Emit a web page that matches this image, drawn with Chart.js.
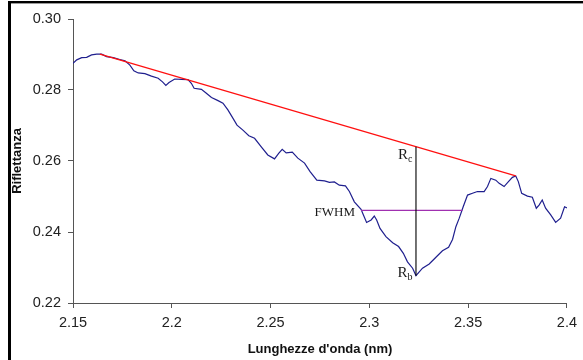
<!DOCTYPE html>
<html>
<head>
<meta charset="utf-8">
<script src="https://cdn.jsdelivr.net/npm/chart.js@4/dist/chart.umd.min.js"></script>
<style>
  html, body { margin: 0; padding: 0; background: #fff; }
  #wrap { width: 583px; height: 360px; }
</style>
</head>
<body>
<div id="wrap"><canvas id="c" width="583" height="360"></canvas></div>
<script>
// Spectrum: wavelength (µm) and reflectance
const wavelength = [
  2.1500, 2.1519, 2.1544, 2.1569, 2.1594, 2.1620, 2.1645, 2.1670, 2.1704, 2.1737,
  2.1763, 2.1788, 2.1808, 2.1830, 2.1864, 2.1897, 2.1931, 2.1953, 2.1970, 2.1986,
  2.2015, 2.2049, 2.2082, 2.2099, 2.2113, 2.2150, 2.2175, 2.2201, 2.2234, 2.2259,
  2.2284, 2.2310, 2.2330, 2.2360, 2.2390, 2.2419, 2.2453, 2.2486, 2.2520, 2.2542,
  2.2559, 2.2579, 2.2610, 2.2638, 2.2672, 2.2700, 2.2734, 2.2773, 2.2798, 2.2823,
  2.2848, 2.2879, 2.2899, 2.2924, 2.2958, 2.2970, 2.2986, 2.3009, 2.3025, 2.3037,
  2.3054, 2.3084, 2.3118, 2.3148, 2.3172, 2.3193, 2.3219, 2.3236, 2.3269, 2.3303,
  2.3337, 2.3370, 2.3401, 2.3421, 2.3438, 2.3455, 2.3475, 2.3497, 2.3522, 2.3547,
  2.3581, 2.3598, 2.3615, 2.3640, 2.3657, 2.3682, 2.3704, 2.3724, 2.3741, 2.3754,
  2.3771, 2.3800, 2.3825, 2.3845, 2.3859, 2.3875, 2.3892, 2.3918, 2.3943, 2.3968,
  2.3988, 2.4000
];
const reflectance = [
  0.2875, 0.2885, 0.2891, 0.2892, 0.2899, 0.2901, 0.2901, 0.2894, 0.2891, 0.2886,
  0.2882, 0.2870, 0.2854, 0.2848, 0.2846, 0.2839, 0.2833, 0.2823, 0.2813, 0.2821,
  0.2831, 0.2830, 0.2829, 0.2819, 0.2805, 0.2802, 0.2791, 0.2779, 0.2770, 0.2763,
  0.2744, 0.2720, 0.2701, 0.2687, 0.2671, 0.2664, 0.2640, 0.2617, 0.2606, 0.2622,
  0.2633, 0.2623, 0.2625, 0.2608, 0.2594, 0.2570, 0.2546, 0.2544, 0.2540, 0.2541,
  0.2532, 0.2530, 0.2514, 0.2485, 0.2464, 0.2448, 0.2427, 0.2434, 0.2445, 0.2434,
  0.2410, 0.2387, 0.2370, 0.2359, 0.2340, 0.2316, 0.2298, 0.2277, 0.2298, 0.2310,
  0.2329, 0.2347, 0.2357, 0.2379, 0.2415, 0.2439, 0.2471, 0.2504, 0.2509, 0.2514,
  0.2514, 0.2528, 0.2551, 0.2546, 0.2537, 0.2528, 0.2542, 0.2554, 0.2558, 0.2542,
  0.2509, 0.2501, 0.2498, 0.2467, 0.2476, 0.2490, 0.2467, 0.2448, 0.2427, 0.2439,
  0.2471, 0.2468
];

// Continuum line between the two shoulders of the absorption band
const continuumX = [2.1636, 2.3741];
const continuumY = [0.2901, 0.2558];

// Band depth: continuum (Rc) and band bottom (Rb) at the band centre
const bandCentre = 2.3236;
const rcValue = 0.2640;
const rbValue = 0.2277;

// Full width at half maximum
const fwhmX = [2.2958, 2.3471];
const fwhmY = 0.2461;

// Axis ticks
const xTickValues = [2.15, 2.2, 2.25, 2.3, 2.35, 2.4];
const xTickLabels = ['2.15', '2.2', '2.25', '2.3', '2.35', '2.4'];
const yTickValues = [0.22, 0.24, 0.26, 0.28, 0.30];
const yTickLabels = ['0.22', '0.24', '0.26', '0.28', '0.30'];

const pts = (xs, ys) => xs.map((x, i) => ({ x: x, y: ys[i] }));

// Frame of the figure and the serif annotation labels
const decorations = {
  id: 'decorations',
  beforeDraw(chart) {
    const ctx = chart.ctx;
    ctx.save();
    ctx.fillStyle = '#fff';
    ctx.fillRect(0, 0, chart.width, chart.height);
    ctx.fillStyle = '#000';
    ctx.fillRect(8, 1, 3, chart.height - 1);
    ctx.fillRect(8, 1, chart.width - 8, 2);
    ctx.fillStyle = '#9a9a9a';
    ctx.fillRect(11, 3, chart.width - 11, 1);
    ctx.restore();
  },
  afterDatasetsDraw(chart) {
    const ctx = chart.ctx;
    const xs = chart.scales.x, ys = chart.scales.y;
    const cx = xs.getPixelForValue(bandCentre);
    const rcPx = ys.getPixelForValue(rcValue);
    const rbPx = ys.getPixelForValue(rbValue);
    const fx = xs.getPixelForValue(fwhmX[0]);
    const fy = ys.getPixelForValue(fwhmY);
    ctx.save();
    ctx.fillStyle = '#1a1a1a';
    ctx.textBaseline = 'alphabetic';

    const serif = '"Liberation Serif", "Times New Roman", serif';
    const sub = (main, s, right, base) => {
      ctx.font = '15px ' + serif;
      const wMain = ctx.measureText(main).width;
      ctx.font = '10px ' + serif;
      const wSub = ctx.measureText(s).width;
      const left = right - wMain - wSub;
      ctx.font = '15px ' + serif;
      ctx.textAlign = 'left';
      ctx.fillText(main, left, base);
      ctx.font = '10px ' + serif;
      ctx.fillText(s, left + wMain, base + 3);
    };
    sub('R', 'c', cx - 3.5, rcPx + 12.5);
    sub('R', 'b', cx - 3.5, rbPx + 1);

    ctx.font = '13px ' + serif;
    ctx.textAlign = 'right';
    ctx.fillText('FWHM', fx - 6, fy + 5.5);
    ctx.restore();
  }
};

new Chart(document.getElementById('c'), {
  type: 'line',
  data: {
    datasets: [
      {
        label: 'Riflettanza',
        data: pts(wavelength, reflectance),
        borderColor: '#1f1f8e',
        borderWidth: 1.2,
        pointRadius: 0,
        tension: 0,
        order: 3
      },
      {
        label: 'Continuo',
        data: pts(continuumX, continuumY),
        borderColor: '#ff1010',
        borderWidth: 1.2,
        pointRadius: 0,
        order: 2
      },
      {
        label: 'Profondità',
        data: [{ x: bandCentre, y: rcValue }, { x: bandCentre, y: rbValue }],
        borderColor: '#000000',
        borderWidth: 1.1,
        pointRadius: 0,
        order: 1
      },
      {
        label: 'FWHM',
        data: [{ x: fwhmX[0], y: fwhmY }, { x: fwhmX[1], y: fwhmY }],
        borderColor: '#a030b0',
        borderWidth: 1.2,
        pointRadius: 0,
        order: 1
      }
    ]
  },
  options: {
    responsive: false,
    animation: false,
    events: [],
    layout: { padding: { left: 0, right: 15, top: 19, bottom: 0 } },
    plugins: { legend: { display: false }, tooltip: { enabled: false } },
    scales: {
      x: {
        type: 'linear',
        min: 2.15,
        max: 2.4,
        afterBuildTicks(scale) { scale.ticks = xTickValues.map(v => ({ value: v })); },
        afterFit(scale) { scale.height = 57; },
        grid: { drawOnChartArea: false, drawTicks: true, tickLength: 5, color: '#555' },
        border: { display: true, color: '#555', width: 1 },
        ticks: {
          autoSkip: false,
          maxRotation: 0,
          padding: 6,
          color: '#222',
          font: { family: '"Liberation Sans", Arial, sans-serif', size: 14.5 },
          callback: (v, i) => xTickLabels[i]
        },
        title: {
          display: true,
          text: "Lunghezze d'onda (nm)",
          color: '#111',
          padding: { top: 0, bottom: 3 },
          font: { family: '"Liberation Sans", Arial, sans-serif', size: 13, weight: 'bold', lineHeight: 1.2 }
        }
      },
      y: {
        type: 'linear',
        min: 0.22,
        max: 0.30,
        afterBuildTicks(scale) { scale.ticks = yTickValues.map(v => ({ value: v })); },
        afterFit(scale) { scale.width = 73; },
        grid: { drawOnChartArea: false, drawTicks: true, tickLength: 5, color: '#555' },
        border: { display: true, color: '#555', width: 1 },
        ticks: {
          padding: 7,
          color: '#222',
          font: { family: '"Liberation Sans", Arial, sans-serif', size: 14.5 },
          callback: (v, i) => yTickLabels[i]
        },
        title: {
          display: true,
          text: 'Riflettanza',
          color: '#111',
          padding: { top: 10, bottom: 0 },
          font: { family: '"Liberation Sans", Arial, sans-serif', size: 13, weight: 'bold', lineHeight: 1.2 }
        }
      }
    }
  },
  plugins: [decorations]
});
</script>
</body>
</html>
